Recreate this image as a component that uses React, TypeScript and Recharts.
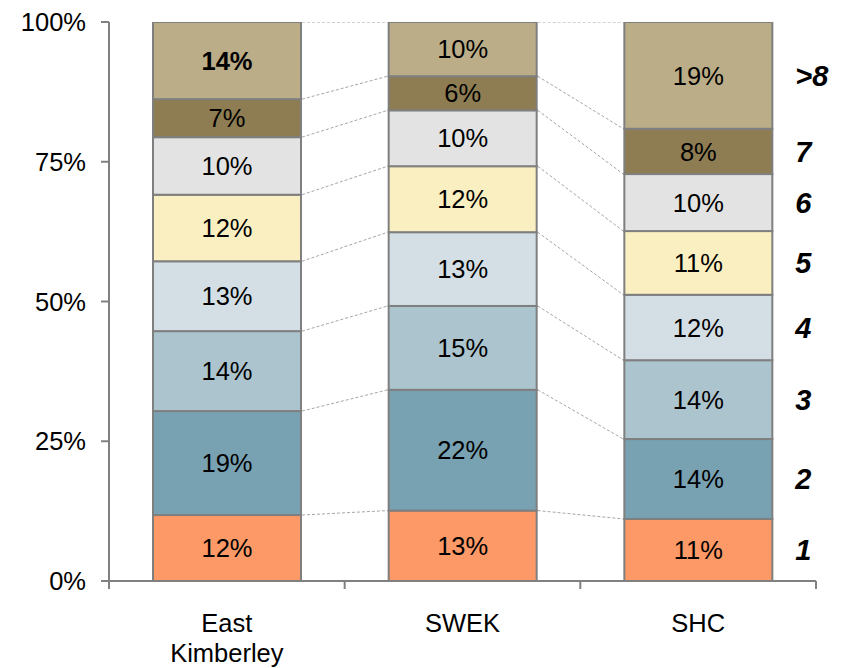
import React from 'react';
import { BarChart, Bar, XAxis, YAxis } from 'recharts';

const categories = ['East Kimberley', 'SWEK', 'SHC'];
const seriesNames = ['1', '2', '3', '4', '5', '6', '7', '>8'];
const eastKimberley = [11.8, 18.6, 14.3, 12.5, 11.9, 10.3, 6.8, 13.8];
const swek = [12.6, 21.6, 15.0, 13.2, 11.8, 10.0, 6.1, 9.7];
const shc = [11.1, 14.3, 14.1, 11.7, 11.4, 10.2, 8.1, 19.1];
const yTicks = [0, 25, 50, 75, 100];
const boldCells = [{ cat: 0, series: 7 }];

const colors = ['#FD9966', '#78A1B2', '#ACC4CE', '#D3DFE5', '#FAEFC0', '#E3E3E3', '#8E7D52', '#BBAD87'];

const W = 848;
const H = 668;
const MARGIN = { top: 22, right: 32, bottom: 0, left: 0 };
const Y_AXIS_W = 109;
const X_AXIS_H = 87;
const BAND = (W - MARGIN.right - MARGIN.left - Y_AXIS_W) / categories.length;
const FONT = '"Liberation Sans", Arial, sans-serif';
const AXIS_GREY = '#808080';

const rows = [eastKimberley, swek, shc];
const data = categories.map((name, i) => {
  const row: any = { name };
  seriesNames.forEach((s, k) => {
    row['s' + k] = rows[i][k];
  });
  return row;
});

const sum = (a: number[]) => a.reduce((p, c) => p + c, 0);

const makeShape = (k: number) => (props: any) => {
  const { x, y, width, height, index } = props;
  const vals = rows[index];
  const v = vals[k];
  const s = height / v;
  const cumLow = sum(vals.slice(0, k));
  const zeroY = y + height + cumLow * s;
  const next = rows[index + 1];
  let connector = null;
  if (next) {
    const nextTop = zeroY - sum(next.slice(0, k + 1)) * s;
    connector = (
      <line
        x1={x + width + 1}
        y1={y}
        x2={x + BAND - 1}
        y2={nextTop}
        stroke="#A6A6A6"
        strokeWidth={1}
        strokeDasharray="3 2"
      />
    );
  }
  const bold = boldCells.some((b) => b.cat === index && b.series === k);
  const cy = y + height / 2;
  return (
    <g>
      {connector}
      <rect x={x} y={y} width={width} height={height} fill={colors[k]} stroke="#7F7F7F" strokeWidth={2} />
      <text
        x={x + width / 2}
        y={cy}
        dy="0.36em"
        textAnchor="middle"
        fontFamily={FONT}
        fontSize={25.5}
        fontWeight={bold ? 'bold' : 'normal'}
        fill="#000"
      >
        {Math.round(v)}%
      </text>
      {index === rows.length - 1 ? (
        <text
          x={x + width + 23}
          y={cy}
          dy="0.36em"
          textAnchor="start"
          fontFamily={FONT}
          fontSize={29}
          fontWeight="bold"
          fontStyle="italic"
          fill="#000"
        >
          {seriesNames[k]}
        </text>
      ) : null}
    </g>
  );
};

const XTick = (props: any) => {
  const { x, y, payload, index } = props;
  const words = String(payload.value).split(' ');
  return (
    <g>
      <line x1={x - BAND / 2} x2={x - BAND / 2} y1={y} y2={y + 8} stroke={AXIS_GREY} strokeWidth={2} />
      {index === categories.length - 1 ? (
        <line x1={x + BAND / 2} x2={x + BAND / 2} y1={y} y2={y + 8} stroke={AXIS_GREY} strokeWidth={2} />
      ) : null}
      <text x={x} y={y + 51} textAnchor="middle" fontFamily={FONT} fontSize={25.5} fill="#000">
        {words.map((w, i) => (
          <tspan key={i} x={x} dy={i === 0 ? 0 : 30}>
            {w}
          </tspan>
        ))}
      </text>
    </g>
  );
};

export default function App() {
  return (
    <div style={{ position: 'absolute', left: 0, top: 0, width: W, height: H, background: '#fff' }}>
      <BarChart width={W} height={H} data={data} margin={MARGIN} barSize={148}>
        <XAxis
          dataKey="name"
          height={X_AXIS_H}
          tickLine={false}
          tickSize={0}
          tickMargin={0}
          axisLine={{ stroke: AXIS_GREY, strokeWidth: 2 }}
          tick={<XTick />}
          interval={0}
        />
        <YAxis
          width={Y_AXIS_W}
          domain={[0, 100]}
          ticks={yTicks}
          allowDataOverflow
          tickFormatter={(v: number) => `${v}%`}
          tickSize={8}
          tickMargin={15}
          axisLine={{ stroke: AXIS_GREY, strokeWidth: 2 }}
          tickLine={{ stroke: AXIS_GREY, strokeWidth: 2 }}
          tick={{ fill: '#000', fontSize: 25.5, fontFamily: FONT }}
        />
        {seriesNames.map((s, k) => (
          <Bar key={s} dataKey={'s' + k} stackId="a" isAnimationActive={false} shape={makeShape(k)} />
        ))}
      </BarChart>
    </div>
  );
}
